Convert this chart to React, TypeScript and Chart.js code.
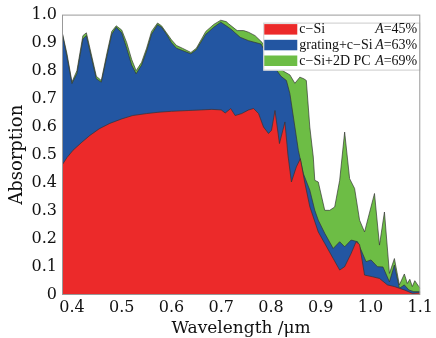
import React, { useEffect, useRef } from "react";
import { Chart, registerables } from "chart.js";

Chart.register(...registerables);

// c-Si
const redWl = [0.38, 0.39, 0.402, 0.42, 0.436, 0.455, 0.476, 0.5, 0.522, 0.55, 0.575, 0.6, 0.635, 0.66, 0.681, 0.7, 0.708, 0.719, 0.728, 0.741, 0.755, 0.765, 0.775, 0.785, 0.795, 0.801, 0.808, 0.817, 0.828, 0.834, 0.841, 0.851, 0.859, 0.868, 0.878, 0.895, 0.908, 0.925, 0.938, 0.948, 0.961, 0.971, 0.978, 0.988, 1.004, 1.018, 1.034, 1.048, 1.068, 1.084, 1.1];
const redAbs = [0.463, 0.49, 0.516, 0.545, 0.569, 0.593, 0.612, 0.628, 0.64, 0.647, 0.652, 0.655, 0.658, 0.66, 0.662, 0.66, 0.649, 0.665, 0.64, 0.647, 0.66, 0.665, 0.647, 0.599, 0.576, 0.587, 0.658, 0.54, 0.617, 0.5, 0.403, 0.457, 0.486, 0.4, 0.315, 0.225, 0.184, 0.13, 0.089, 0.101, 0.148, 0.19, 0.18, 0.071, 0.065, 0.059, 0.036, 0.03, 0.018, 0.006, 0.008];

// grating + c-Si
const blueWl = [0.38, 0.39, 0.4, 0.41, 0.422, 0.429, 0.44, 0.449, 0.459, 0.47, 0.48, 0.489, 0.5, 0.51, 0.52, 0.529, 0.54, 0.55, 0.56, 0.572, 0.58, 0.59, 0.6, 0.61, 0.622, 0.639, 0.65, 0.669, 0.685, 0.699, 0.71, 0.719, 0.738, 0.755, 0.78, 0.8, 0.82, 0.831, 0.838, 0.845, 0.855, 0.865, 0.878, 0.888, 0.895, 0.908, 0.925, 0.938, 0.948, 0.961, 0.974, 0.991, 1.001, 1.014, 1.025, 1.038, 1.048, 1.058, 1.068, 1.077, 1.087, 1.1];
const blueAbs = [0.937, 0.85, 0.754, 0.79, 0.913, 0.925, 0.84, 0.771, 0.759, 0.85, 0.93, 0.955, 0.935, 0.88, 0.82, 0.789, 0.82, 0.87, 0.93, 0.964, 0.955, 0.93, 0.9, 0.88, 0.872, 0.86, 0.875, 0.93, 0.955, 0.973, 0.96, 0.949, 0.919, 0.907, 0.895, 0.83, 0.78, 0.765, 0.718, 0.635, 0.516, 0.433, 0.374, 0.302, 0.267, 0.22, 0.166, 0.19, 0.172, 0.196, 0.19, 0.119, 0.125, 0.101, 0.1, 0.047, 0.107, 0.024, 0.036, 0.018, 0.012, 0.012];

// c-Si + 2D PC
const greenWl = [0.38, 0.39, 0.4, 0.41, 0.422, 0.429, 0.44, 0.449, 0.459, 0.47, 0.48, 0.489, 0.5, 0.51, 0.52, 0.529, 0.54, 0.55, 0.56, 0.572, 0.58, 0.59, 0.6, 0.61, 0.622, 0.639, 0.65, 0.669, 0.685, 0.699, 0.71, 0.715, 0.732, 0.745, 0.755, 0.768, 0.782, 0.8, 0.815, 0.828, 0.838, 0.848, 0.858, 0.866, 0.871, 0.878, 0.885, 0.888, 0.895, 0.908, 0.918, 0.928, 0.938, 0.948, 0.958, 0.968, 0.978, 0.988, 1.008, 1.018, 1.028, 1.038, 1.048, 1.058, 1.068, 1.074, 1.079, 1.084, 1.089, 1.097, 1.1];
const greenAbs = [0.94, 0.86, 0.76, 0.8, 0.925, 0.935, 0.85, 0.78, 0.765, 0.86, 0.94, 0.96, 0.945, 0.9, 0.84, 0.8, 0.83, 0.88, 0.94, 0.97, 0.96, 0.935, 0.91, 0.89, 0.88, 0.865, 0.88, 0.94, 0.965, 0.98, 0.975, 0.967, 0.943, 0.943, 0.937, 0.925, 0.901, 0.85, 0.81, 0.795, 0.785, 0.755, 0.777, 0.771, 0.765, 0.599, 0.492, 0.409, 0.403, 0.302, 0.302, 0.314, 0.409, 0.581, 0.415, 0.38, 0.267, 0.225, 0.362, 0.178, 0.296, 0.077, 0.13, 0.036, 0.075, 0.041, 0.056, 0.03, 0.051, 0.03, 0.025];

const xTicks = [0.4, 0.5, 0.6, 0.7, 0.8, 0.9, 1.0, 1.1];
const seriesNames = ["c\u2212Si", "grating+c\u2212Si", "c\u2212Si+2D PC"];
const seriesA = ["45%", "63%", "69%"];
const seriesColors = ["#EC2A2A", "#2356A2", "#6DBD45"];

const toPts = (xs: number[], ys: number[]) => xs.map((x, i) => ({ x, y: ys[i] }));

const legendPlugin = {
  id: "boxLegend",
  afterDatasetsDraw(chart: any) {
    const ctx = chart.ctx;
    const a = chart.chartArea;
    const x0 = a.right - 157;
    const y0 = a.top + 8;
    const w = 157;
    const h = 48;
    ctx.save();
    ctx.fillStyle = "#ffffff";
    ctx.fillRect(x0, y0, w, h);
    ctx.strokeStyle = "#cccccc";
    ctx.lineWidth = 1;
    ctx.strokeRect(x0 + 0.5, y0 + 0.5, w - 1, h - 1);
    ctx.textBaseline = "middle";
    for (let i = 0; i < seriesNames.length; i++) {
      const ry = y0 + 1.5 + i * 15.7;
      ctx.fillStyle = seriesColors[i];
      ctx.fillRect(x0 + 1, ry, 33, 10.5);
      const ty = ry + 5.5;
      ctx.fillStyle = "#111111";
      ctx.font = "14px 'Liberation Serif'";
      ctx.textAlign = "left";
      ctx.fillText(seriesNames[i], x0 + 36, ty);
      const rest = "=" + seriesA[i];
      const rx = a.right - 3;
      ctx.textAlign = "right";
      ctx.fillText(rest, rx, ty);
      const rw = ctx.measureText(rest).width;
      ctx.font = "italic 14px 'Liberation Serif'";
      ctx.fillText("A", rx - rw, ty);
    }
    ctx.restore();
  },
  afterDraw(chart: any) {
    const ctx = chart.ctx;
    const a = chart.chartArea;
    ctx.save();
    ctx.strokeStyle = "#999999";
    ctx.lineWidth = 1;
    ctx.strokeRect(a.left + 0.5, a.top + 0.5, a.right - a.left - 1, a.bottom - a.top - 1);
    ctx.restore();
  },
};

export default function App() {
  const ref = useRef<HTMLCanvasElement | null>(null);
  useEffect(() => {
    if (!ref.current) return;
    const lineCommon = {
      fill: "origin",
      tension: 0,
      pointRadius: 0,
      borderWidth: 0.8,
      borderColor: "rgba(50,50,50,0.85)",
    };
    const chart = new Chart(ref.current, {
      type: "line",
      data: {
        datasets: [
          { ...lineCommon, label: seriesNames[0], data: toPts(redWl, redAbs), backgroundColor: seriesColors[0] },
          { ...lineCommon, label: seriesNames[1], data: toPts(blueWl, blueAbs), backgroundColor: seriesColors[1] },
          { ...lineCommon, label: seriesNames[2], data: toPts(greenWl, greenAbs), backgroundColor: seriesColors[2] },
        ] as any,
      },
      options: {
        animation: false,
        responsive: false,
        layout: { padding: { top: 14, right: 13, left: 0, bottom: 0 } },
        plugins: { legend: { display: false }, tooltip: { enabled: false } },
        scales: {
          x: {
            type: "linear",
            min: 0.38,
            max: 1.1,
            afterBuildTicks: (s: any) => {
              s.ticks = xTicks.map((v) => ({ value: v }));
            },
            afterFit: (s: any) => {
              s.height = 43;
            },
            grid: { display: false, drawTicks: false },
            border: { display: false },
            ticks: {
              padding: 3,
              color: "#111",
              font: { family: "'DejaVu Serif'", size: 16 },
              callback: (v: any) => Number(v).toFixed(1),
            },
            title: {
              display: true,
              text: "Wavelength /\u03bcm",
              color: "#111",
              font: { family: "'DejaVu Serif'", size: 17, lineHeight: 1 },
              padding: { top: 0, bottom: 1 },
            },
          },
          y: {
            min: 0,
            max: 1,
            afterFit: (s: any) => {
              s.width = 62;
            },
            grid: { display: false, drawTicks: false },
            border: { display: false },
            ticks: {
              stepSize: 0.1,
              padding: 5,
              color: "#111",
              font: { family: "'DejaVu Serif'", size: 16 },
              callback: (v: any) => (Number(v) === 0 ? "0" : Number(v).toFixed(1)),
            },
            title: {
              display: true,
              text: "Absorption",
              color: "#111",
              font: { family: "'DejaVu Serif'", size: 18, lineHeight: 1 },
              padding: { top: 8, bottom: 0 },
            },
          },
        },
      },
      plugins: [legendPlugin],
    } as any);
    return () => chart.destroy();
  }, []);
  return (
    <div style={{ position: "absolute", left: 0, top: 0, width: 436, height: 338, background: "#fff" }}>
      <canvas ref={ref} width={436} height={338} style={{ display: "block" }} />
    </div>
  );
}
